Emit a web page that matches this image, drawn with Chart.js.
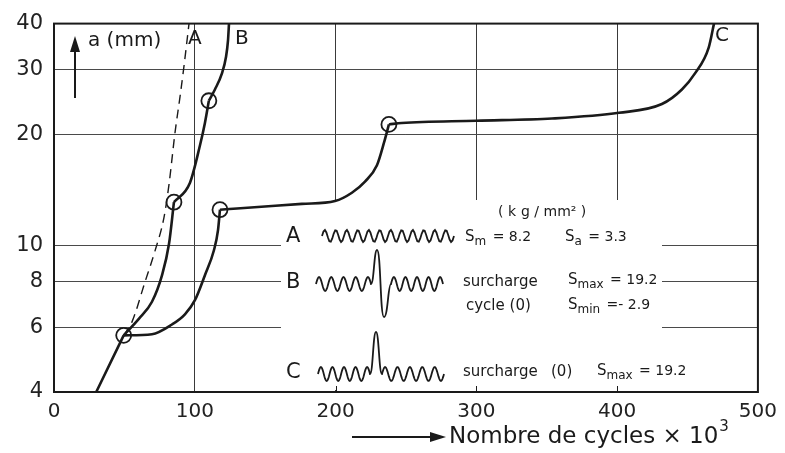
<!DOCTYPE html>
<html>
<head>
<meta charset="utf-8">
<script src="https://cdn.jsdelivr.net/npm/chart.js@4"></script>
<style>
  html, body { margin: 0; padding: 0; background: #fff; }
  #wrap { width: 785px; height: 453px; }
</style>
</head>
<body>
<div id="wrap"><canvas id="chart" width="785" height="453"></canvas></div>
<script>
// cycles (x 10^3) and crack length a (mm); null = break at an overload point
const xTicks = [0, 100, 200, 300, 400, 500];
const yTicks = [4, 6, 8, 10, 20, 30, 40];

const curveAX = [49.5, 55.4, 64.6, 71.7, 78.1, 81.7, 86, 89.5, 92.3, 95.9];
const curveAY = [5.7, 6.2, 7.95, 9.65, 11.9, 14.65, 20.3, 25.3, 30.6, 40];

const curveBX = [30, 49.5, 49.5, 49.5, 60.4, 69.6, 76.7, 81.7, 85.2, 85.2, 85.2, 96.6, 103.7, 107.2, 110, 110, 110, 114.3, 119.3, 122.2, 123.6, 124.3];
const curveBY = [4, 5.7, null, 5.7, 6.33, 7.03, 8.29, 10.1, 13.1, null, 13.1, 14.8, 18.7, 21.5, 24.7, null, 24.7, 26.5, 29.3, 32.5, 36, 40];

const curveCX = [49.5, 69.6, 83.8, 93, 100.1, 107.2, 113.6, 116.5, 117.9, 117.9, 117.9, 130, 176.1, 199.6, 211.6, 220.9, 229.4, 234.4, 237.9, 237.9, 237.9, 247, 300, 353.7, 401.3, 431.8, 446, 455.3, 465.1, 468.8];
const curveCY = [5.7, 5.74, 6.1, 6.5, 7.1, 8.3, 9.7, 11.0, 12.5, null, 12.5, 12.6, 12.96, 13.2, 13.9, 14.9, 16.5, 19.0, 21.3, null, 21.3, 21.5, 21.8, 22.1, 22.9, 24.2, 26.5, 29.3, 34.5, 40];

const overloadX = [49.5, 85.2, 110, 117.9, 237.9];
const overloadY = [5.7, 13.1, 24.7, 12.5, 21.3];

const pairs = (xs, ys) => xs.map((x, i) => ({ x: x, y: ys[i] }));
const FONT = "'DejaVu Sans', sans-serif";
const INK = "#1a1a1a";

function waveRun(ctx, x0, x1, y, amp, n) {
    const steps = 90;
    for (let i = 0; i <= steps; i++) {
        const t = i / steps;
        ctx.lineTo(x0 + (x1 - x0) * t, y - amp * Math.sin(Math.PI * 2 * n * t));
    }
}

function subText(ctx, x, y, main, sub, rest) {
    ctx.font = "15px " + FONT;
    ctx.fillText(main, x, y);
    let w = ctx.measureText(main).width;
    ctx.font = "12px " + FONT;
    ctx.fillText(sub, x + w, y + 5);
    w += ctx.measureText(sub).width + 2;
    ctx.font = "14px " + FONT;
    ctx.fillText(rest, x + w, y);
}

const insetPlugin = {
    id: "inset",
    beforeDatasetsDraw(chart) {
        const ctx = chart.ctx;
        const xs = chart.scales.x;
        const bottom = chart.chartArea.bottom;
        ctx.save();
        ctx.fillStyle = "#fff";
        ctx.fillRect(281, 200, 381, bottom - 202);
        ctx.strokeStyle = INK;
        ctx.lineWidth = 1;
        [200, 300, 400].forEach((v) => {
            const px = Math.round(xs.getPixelForValue(v)) + 0.5;
            ctx.beginPath();
            ctx.moveTo(px, bottom);
            ctx.lineTo(px, bottom - 6);
            ctx.stroke();
        });
        ctx.restore();
    },
    afterDraw(chart) {
        const ctx = chart.ctx;
        const a = chart.chartArea;
        ctx.save();
        // frame
        ctx.strokeStyle = INK;
        ctx.lineWidth = 2;
        ctx.strokeRect(a.left, a.top, a.right - a.left, a.bottom - a.top);

        ctx.fillStyle = INK;
        ctx.textBaseline = "middle";
        ctx.textAlign = "left";

        // curve labels
        ctx.font = "20px " + FONT;
        ctx.fillText("A", 188, 39);
        ctx.fillText("B", 235, 39);
        ctx.fillText("C", 715, 36);
        ctx.fillText("a (mm)", 88, 41);

        // y arrow
        ctx.lineWidth = 2;
        ctx.beginPath();
        ctx.moveTo(75, 98);
        ctx.lineTo(75, 48);
        ctx.stroke();
        ctx.beginPath();
        ctx.moveTo(75, 36);
        ctx.lineTo(70, 52);
        ctx.lineTo(80, 52);
        ctx.closePath();
        ctx.fill();

        // x title with arrow
        ctx.beginPath();
        ctx.moveTo(352, 437);
        ctx.lineTo(432, 437);
        ctx.stroke();
        ctx.beginPath();
        ctx.moveTo(446, 437);
        ctx.lineTo(430, 432);
        ctx.lineTo(430, 442);
        ctx.closePath();
        ctx.fill();
        ctx.font = "23px " + FONT;
        ctx.fillText("Nombre de cycles \u00d7 10", 449, 437);
        const tw = ctx.measureText("Nombre de cycles \u00d7 10").width;
        ctx.font = "15px " + FONT;
        ctx.fillText("3", 449 + tw + 1, 427);

        // inset legend
        ctx.font = "14px " + FONT;
        ctx.fillText("( k", 498, 212);
        ctx.fillText("g / mm\u00b2 )", 521, 212);

        ctx.font = "21px " + FONT;
        ctx.fillText("A", 286, 237);
        ctx.fillText("B", 286, 283);
        ctx.fillText("C", 286, 373);

        ctx.lineWidth = 1.8;
        ctx.strokeStyle = INK;
        ctx.beginPath();
        ctx.moveTo(322, 236);
        waveRun(ctx, 322, 454, 236, 6, 12);
        ctx.stroke();

        ctx.beginPath();
        ctx.moveTo(316, 284);
        waveRun(ctx, 316, 371, 284, 7, 4.5);
        ctx.bezierCurveTo(374, 284, 374, 250, 377, 250);
        ctx.bezierCurveTo(381, 250, 380, 317, 384, 317);
        ctx.bezierCurveTo(388, 317, 388, 284, 391, 284);
        waveRun(ctx, 391, 443, 284, 7, 4.5);
        ctx.stroke();

        ctx.beginPath();
        ctx.moveTo(318, 374);
        waveRun(ctx, 318, 370, 374, 7, 4.5);
        ctx.bezierCurveTo(373, 374, 373, 332, 376, 332);
        ctx.bezierCurveTo(379, 332, 379, 374, 382, 374);
        waveRun(ctx, 382, 444, 374, 7, 5);
        ctx.stroke();

        subText(ctx, 465, 237, "S", "m", " = 8.2");
        subText(ctx, 565, 237, "S", "a", " = 3.3");
        ctx.font = "15px " + FONT;
        ctx.fillText("surcharge", 463, 282);
        ctx.fillText("cycle (0)", 466, 306);
        subText(ctx, 568, 280, "S", "max", " = 19.2");
        subText(ctx, 568, 305, "S", "min", " =- 2.9");
        ctx.font = "15px " + FONT;
        ctx.fillText("surcharge", 463, 372);
        ctx.fillText("(0)", 551, 372);
        subText(ctx, 597, 371, "S", "max", " = 19.2");
        ctx.restore();
    }
};

const lineStyle = {
    showLine: true,
    borderColor: INK,
    borderWidth: 2.6,
    pointRadius: 0,
    spanGaps: false,
    cubicInterpolationMode: "monotone"
};

new Chart(document.getElementById("chart"), {
    type: "scatter",
    data: {
        datasets: [
            Object.assign({}, lineStyle, { label: "A", data: pairs(curveAX, curveAY), borderWidth: 1.4, borderDash: [9, 6] }),
            Object.assign({}, lineStyle, { label: "B", data: pairs(curveBX, curveBY) }),
            Object.assign({}, lineStyle, { label: "C", data: pairs(curveCX, curveCY) }),
            {
                label: "surcharge",
                data: pairs(overloadX, overloadY),
                showLine: false,
                pointRadius: 7.5,
                pointBackgroundColor: "#fff",
                pointBorderColor: INK,
                pointBorderWidth: 1.8
            }
        ]
    },
    options: {
        responsive: false,
        animation: false,
        clip: false,
        layout: { padding: { top: 16, right: 27, left: 0, bottom: 0 } },
        plugins: { legend: { display: false }, tooltip: { enabled: false } },
        scales: {
            x: {
                type: "linear",
                min: 0,
                max: 500,
                afterBuildTicks: (scale) => { scale.ticks = xTicks.map((v) => ({ value: v })); },
                afterFit: (scale) => { scale.height = 61; },
                border: { display: false },
                grid: {
                    drawTicks: false,
                    color: (c) => (c.tick && (c.tick.value === 0 || c.tick.value === 500) ? "rgba(0,0,0,0)" : "#3a3a3a"),
                    lineWidth: 1
                },
                ticks: { padding: 8, color: "#222", font: { family: FONT, size: 20 } }
            },
            y: {
                type: "logarithmic",
                min: 4,
                max: 40,
                afterBuildTicks: (scale) => { scale.ticks = yTicks.map((v) => ({ value: v })); },
                afterFit: (scale) => { scale.width = 54; },
                border: { display: false },
                grid: {
                    drawTicks: false,
                    color: (c) => (c.tick && (c.tick.value === 4 || c.tick.value === 40) ? "rgba(0,0,0,0)" : "#4a4a4a"),
                    lineWidth: 1
                },
                ticks: {
                    padding: 11,
                    color: "#222",
                    font: { family: FONT, size: 21 },
                    callback: (v) => String(v)
                }
            }
        }
    },
    plugins: [insetPlugin]
});
</script>
</body>
</html>
